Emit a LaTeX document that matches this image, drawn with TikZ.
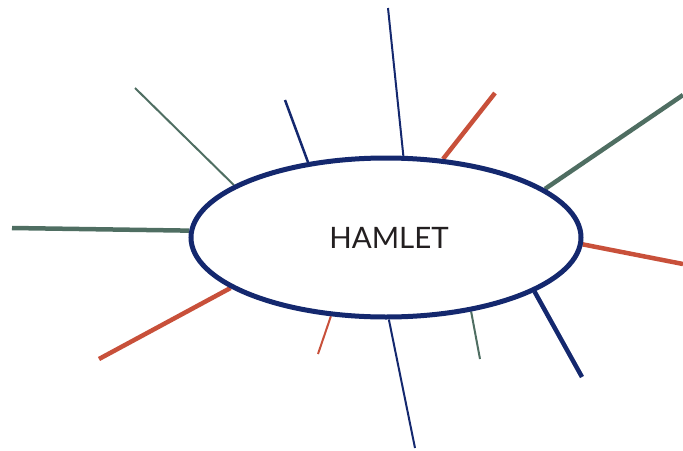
\documentclass[tikz,border=0pt]{standalone}
\usepackage{fontspec}
\setmainfont{Lato}
\usetikzlibrary{shapes.geometric,backgrounds}
\definecolor{navy}{HTML}{14286E}
\definecolor{rust}{HTML}{C8503A}
\definecolor{sage}{HTML}{4F6E62}
\definecolor{ink}{HTML}{231F20}
\tikzset{
  hub/.style={ellipse,draw=navy,line width=5pt,fill=white,inner sep=0pt,
    minimum width=390pt,minimum height=159pt},
  label/.style={text=ink,font=\fontsize{29.5}{29.5}\selectfont,inner sep=0pt},
  thinspoke/.style={line width=2pt},
  thickspoke/.style={line width=4.5pt},
}
\begin{document}
\begin{tikzpicture}[x=1pt,y=-1pt]
\useasboundingbox (0,0) rectangle (683,450);
\node[hub] (hamlet) at (386,237.5) {};
\node[label] (title) at (389,238) {HAMLET};
\coordinate (e1) at (388,8);
\coordinate (e2) at (285,100);
\coordinate (e3) at (135,88);
\coordinate (e4) at (12,228);
\coordinate (e5) at (99,359);
\coordinate (e6) at (318,354);
\coordinate (e7) at (415,448);
\coordinate (e8) at (480,359);
\coordinate (e9) at (582,377);
\coordinate (e10) at (683,264);
\coordinate (e11) at (683,95);
\coordinate (e12) at (495,93);
\begin{scope}[on background layer]
\draw[thinspoke,navy] (hamlet.78.6) -- (e1);
\draw[thinspoke,navy,line width=2.5pt] (hamlet.136.3) -- (e2);
\draw[thinspoke,sage] (hamlet.161.7) -- (e3);
\draw[thickspoke,sage] (hamlet.178.4) -- (e4);
\draw[thickspoke,rust] (hamlet.198.9) -- (e5);
\draw[thinspoke,rust] (hamlet.235.5) -- (e6);
\draw[thinspoke,navy] (hamlet.272) -- (e7);
\draw[thinspoke,sage] (hamlet.319.2) -- (e8);
\draw[thickspoke,navy] (hamlet.340.7) -- (e9);
\draw[thickspoke,rust] (hamlet.358.7) -- (e10);
\draw[thickspoke,sage] (hamlet.17.7) -- (e11);
\draw[thickspoke,rust] (hamlet.54.6) -- (e12);
\end{scope}
\end{tikzpicture}
\end{document}
